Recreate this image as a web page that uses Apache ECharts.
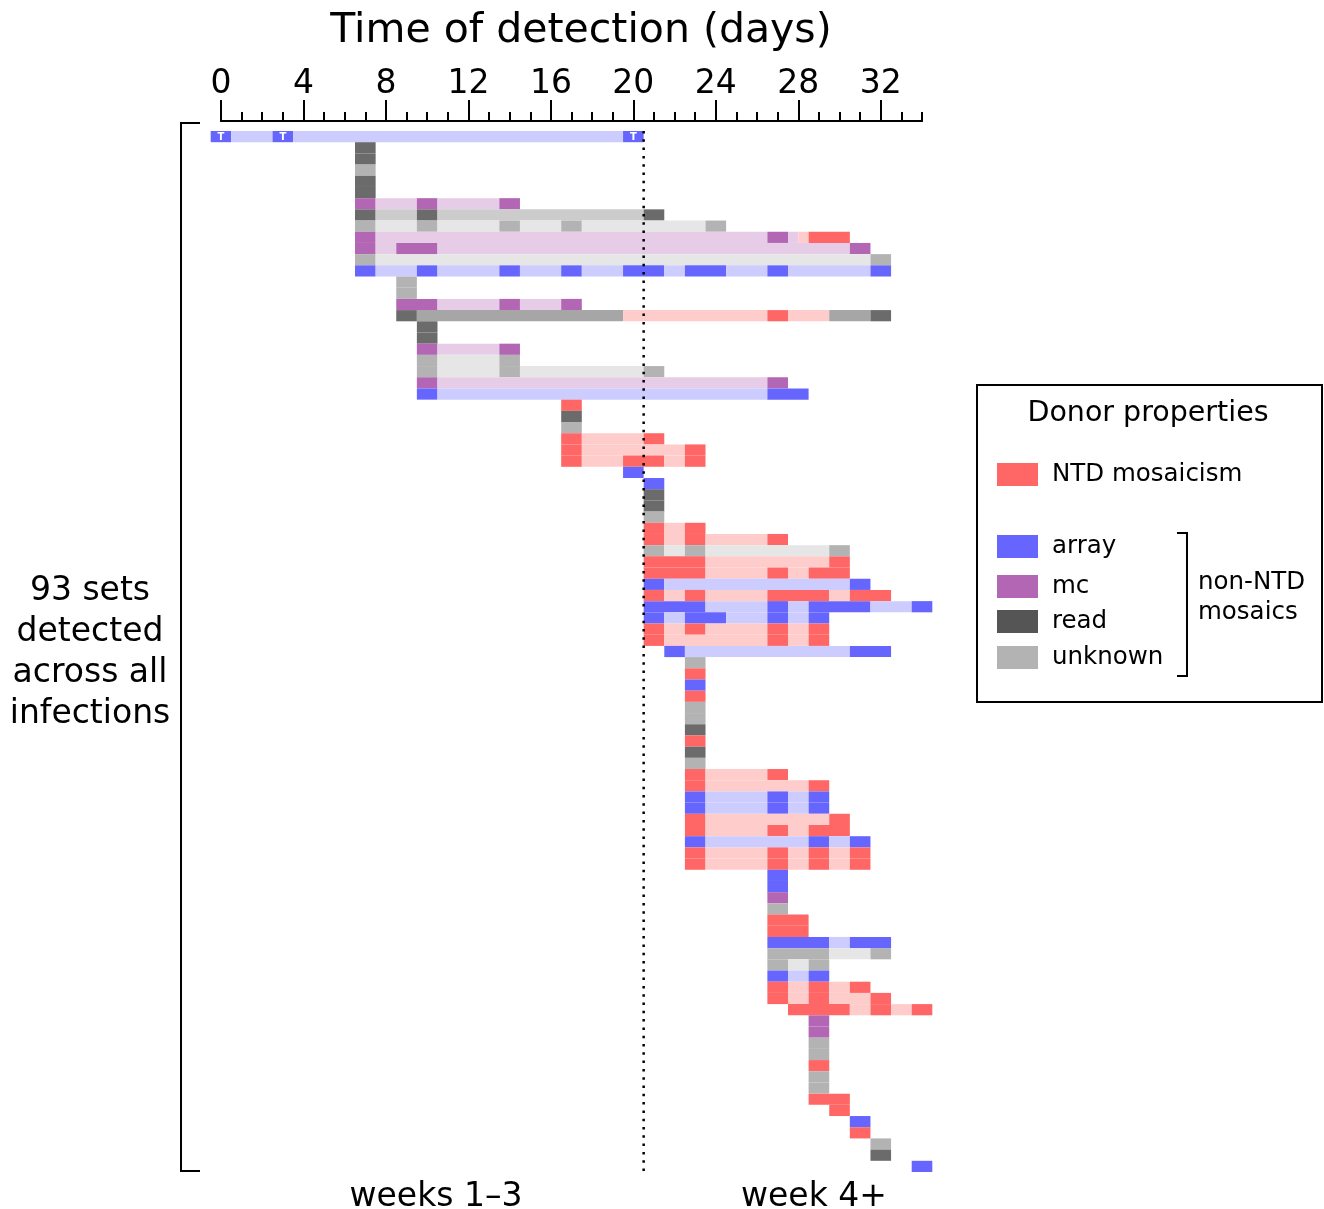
<!DOCTYPE html>
<html><head><meta charset="utf-8">
<script src="https://cdn.jsdelivr.net/npm/echarts@6/dist/echarts.min.js"></script>
<style>html,body{margin:0;padding:0;background:#fff}#c{width:1324px;height:1209px}</style>
</head><body><div id="c"></div>
<script>
// ---------------- DATA ----------------
// x axis (days)
const dayMin = 0, dayMax = 34, majorStep = 4;
const majorTicks = [0, 4, 8, 12, 16, 20, 24, 28, 32];
const weekBoundary = 20.5;
const weekLabels = ['weeks 1\u20133', 'week 4+'];
// first day of each set (row, top to bottom)
const rowStart = [0,
  7,7,7,7,7,7,7,7,7,7,7,7,
  9,9,9,9,
  10,10,10,10,10,10,10,
  17,17,17,17,17,17,
  20,
  21,21,21,21,21,21,21,21,21,21,21,21,21,21,21,
  22,
  23,23,23,23,23,23,23,23,23,23,23,23,23,23,23,23,23,23,23,
  27,27,27,27,27,27,27,27,27,27,27,27,
  28,
  29,29,29,29,29,29,29,29,
  30,
  31,31,
  32,32,
  34];
// run-length day codes per row: upper case = detection (N NTD, A array, M mc, R read, U unknown, T array with "T"),
// lower case = interval between detections; "x/y" = day split in halves
const rowPattern = [
  'T a2 T a16 T',
  'R','R','U','R','R',
  'M m2 M m3 M',
  'R r2 R r10 R',
  'U u2 U u3 U u2 U u6 U',
  'M m19 M m/n N2',
  'M m M2 m20 M',
  'U u24 U',
  'A a2 A a3 A a2 A a2 A2 a A2 a2 A a4 A',
  'U','U',
  'M2 m3 M m2 M',
  'R g10 n7 N n2 g2 R',
  'R','R',
  'M m3 M',
  'U u3 U',
  'U u3 U u6 U',
  'M m16 M',
  'A a16 A2',
  'N','R','U',
  'N n3 N',
  'N n5 N',
  'N n2 N2 n N',
  'A',
  'A','R','R','U',
  'N n N',
  'N n N n3 N',
  'U u U u6 U',
  'N3 n6 N',
  'N3 n3 N n N2',
  'A a9 A',
  'N n N n3 N3 n N2',
  'A3 a3 A a A3 a2 A',
  'A a A2 a2 A a A',
  'N n N n3 N n N',
  'N n5 N n N',
  'A a8 A2',
  'U','N','A','N','U','U','R','N','R','U',
  'N n3 N',
  'N n5 N',
  'A a3 A a A',
  'A a3 A a A',
  'N n6 N',
  'N n3 N n N2',
  'A a5 A a A',
  'N n3 N n N n N',
  'N n3 N n N n N',
  'A','A','M','U',
  'N2','N2',
  'A3 a A2',
  'U3 u2 U',
  'U u U',
  'A a A',
  'N n N n N',
  'N n N n2 N',
  'N3 n N n N',
  'M','M','U','U','N','U','U',
  'N2',
  'N',
  'A','N',
  'U','R',
  'A'
];
const legendCodes = ['N','A','M','R','U'];
const legendNames = ['NTD mosaicism','array','mc','read','unknown'];
const legendTitle = 'Donor properties';
const groupLabel = 'non-NTD\nmosaics';
const leftLabel = '93 sets\ndetected\nacross all\ninfections';
const axisTitle = 'Time of detection (days)';

// ---------------- STYLE ----------------
const COLORS = {N:'#ff6666', n:'#ffcccc', A:'#6666ff', T:'#6666ff', a:'#ccccff',
  M:'#b366b3', m:'#e6cce6', R:'#6b6b6b', r:'#cccccc', g:'#a6a6a6', U:'#b3b3b3', u:'#e6e6e6'};
const LEGEND_COLORS = {N:'#ff6666', A:'#6666ff', M:'#b366b3', R:'#555555', U:'#b3b3b3'};
const CODES = Object.keys(COLORS);
const FONT = 'DejaVu Sans';

// ---------------- BUILD SEGMENTS ----------------
const segs = [];
function push(r, x0, x1, c) {
  const last = segs[segs.length - 1];
  if (last && last[2] === r && last[1] === x0 && CODES[last[3]] === c && c !== 'T') { last[1] = x1; return; }
  segs.push([x0, x1, r, CODES.indexOf(c)]);
}
rowPattern.forEach((pat, r) => {
  let day = rowStart[r];
  pat.split(' ').forEach(tok => {
    if (tok.indexOf('/') >= 0) {
      const [a, b] = tok.split('/');
      push(r, day - 0.5, day, a); push(r, day, day + 0.5, b); day += 1; return;
    }
    const c = tok[0];
    const n = tok.length > 1 ? parseInt(tok.slice(1), 10) : 1;
    for (let i = 0; i < n; i++) { push(r, day - 0.5, day + 0.5, c); day += 1; }
  });
});

const chart = echarts.init(document.getElementById('c'), null, {renderer: 'canvas'});

const legendY = [463, 535, 575, 610, 646];
const graphics = [
  {type:'text', x:581, y:31, style:{text:axisTitle, font:'41px "'+FONT+'"', fill:'#000', align:'center', verticalAlign:'middle'}},
  {type:'polyline', shape:{points:[[200,123],[181,123],[181,1171],[200,1171]]}, style:{stroke:'#000', lineWidth:2, fill:null}},
  {type:'text', x:90, y:653, style:{text:leftLabel, font:'33px "'+FONT+'"', lineHeight:41, fill:'#000', align:'center', verticalAlign:'middle'}},
  {type:'text', x:436, y:1197, style:{text:weekLabels[0], font:'33px "'+FONT+'"', fill:'#000', align:'center', verticalAlign:'middle'}},
  {type:'text', x:814, y:1197, style:{text:weekLabels[1], font:'33px "'+FONT+'"', fill:'#000', align:'center', verticalAlign:'middle'}},
  {type:'rect', shape:{x:977, y:385, width:345, height:317}, style:{stroke:'#000', lineWidth:2, fill:'#fff'}},
  {type:'text', x:1148, y:414, style:{text:legendTitle, font:'28.5px "'+FONT+'"', fill:'#000', align:'center', verticalAlign:'middle'}},
  {type:'polyline', shape:{points:[[1177,533],[1187,533],[1187,676],[1177,676]]}, style:{stroke:'#000', lineWidth:2, fill:null}},
  {type:'text', x:1198, y:598, style:{text:groupLabel, font:'24.5px "'+FONT+'"', lineHeight:30, fill:'#000', align:'left', verticalAlign:'middle'}}
];
legendCodes.forEach((c, i) => {
  graphics.push({type:'rect', shape:{x:997, y:legendY[i], width:41, height:23}, style:{fill:LEGEND_COLORS[c]}});
  graphics.push({type:'text', x:1052, y:legendY[i] + 11.5, style:{text:legendNames[i], font:'24.5px "'+FONT+'"', fill:'#000', align:'left', verticalAlign:'middle'}});
});

chart.setOption({
  animation: false,
  backgroundColor: '#fff',
  grid: {left: 221, top: 131, width: 701, height: 1041, containLabel: false},
  xAxis: [
    {type:'value', min:dayMin, max:dayMax, interval:1, position:'top', offset:10,
     axisLine:{show:true, onZero:false, lineStyle:{color:'#000', width:2}},
     axisTick:{show:true, inside:false, length:9, lineStyle:{color:'#000', width:2}},
     axisLabel:{show:false}, splitLine:{show:false}},
    {type:'value', min:dayMin, max:dayMax, interval:majorStep, position:'top', offset:10,
     axisLine:{show:true, onZero:false, lineStyle:{color:'#000', width:2}},
     axisTick:{show:true, inside:false, length:21, customValues:majorTicks, lineStyle:{color:'#000', width:2}},
     axisLabel:{show:true, customValues:majorTicks, margin:20, fontSize:33, fontFamily:FONT, color:'#000'},
     splitLine:{show:false}}
  ],
  yAxis: {type:'value', min:0, max:rowPattern.length, inverse:true, show:false},
  series: [
    {type:'custom', xAxisIndex:0, clip:false, silent:true,
     encode:{x:[0,1], y:2},
     data: segs,
     renderItem: function (params, api) {
       const x0 = api.value(0), x1 = api.value(1), r = api.value(2);
       const code = CODES[api.value(3)];
       const p0 = api.coord([x0, r]), p1 = api.coord([x1, r + 1]);
       const rect = {type:'rect', shape:{x:p0[0], y:p0[1], width:p1[0]-p0[0], height:p1[1]-p0[1]},
         style:{fill:COLORS[code]}};
       if (code === 'T') {
         return {type:'group', children:[rect, {type:'text', style:{text:'T', x:(p0[0]+p1[0])/2, y:(p0[1]+p1[1])/2 + 0.5,
           fill:'#fff', font:'bold 10px "'+FONT+'"', align:'center', verticalAlign:'middle'}}]};
       }
       return rect;
     }},
    {type:'line', xAxisIndex:0, silent:true, symbol:'none', z:5,
     data:[[weekBoundary, 0], [weekBoundary, rowPattern.length]],
     lineStyle:{color:'#000', width:2.5, type:[2.5, 5.8]}}
  ],
  graphic: graphics
});
</script></body></html>
